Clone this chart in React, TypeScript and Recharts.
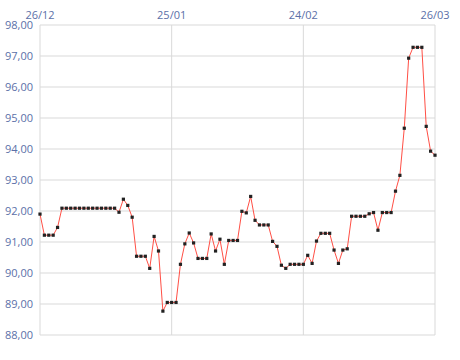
import React from 'react';
import { LineChart, Line, XAxis, YAxis, CartesianGrid } from 'recharts';

// one value per day, starting 26/12
const prices = [
  91.9, 91.22, 91.22, 91.22, 91.47,
  92.09, 92.09, 92.09, 92.09, 92.09, 92.09, 92.09, 92.09, 92.09, 92.09, 92.09, 92.09, 92.09,
  91.96, 92.38, 92.18, 91.8, 90.54, 90.54, 90.54, 90.15, 91.18, 90.71,
  88.77, 89.05, 89.05, 89.05, 90.28, 90.94, 91.29, 90.97, 90.47, 90.47,
  90.47, 91.26, 90.71, 91.09, 90.28, 91.05, 91.05, 91.05, 91.99, 91.94,
  92.47, 91.7, 91.55, 91.55, 91.55, 91.02, 90.86, 90.25, 90.15, 90.28,
  90.28, 90.28, 90.28, 90.57, 90.31, 91.03, 91.28, 91.28, 91.28, 90.74,
  90.31, 90.74, 90.78, 91.83, 91.83, 91.83, 91.83, 91.91, 91.95, 91.38,
  91.95, 91.95, 91.95, 92.64, 93.15, 94.67, 96.93, 97.28, 97.28, 97.28,
  94.73, 93.93, 93.8,
];
const tickDays = [0, 30, 60, 90];
const tickLabels = ['26/12', '25/01', '24/02', '26/03'];
const yTicks = [88, 89, 90, 91, 92, 93, 94, 95, 96, 97, 98];

const data = prices.map((v, i) => ({ day: i, value: v }));

const labelStyle = { fontSize: 11, fill: '#5b70a8', fontFamily: '"Open Sans", sans-serif' };

const SquareDot = (props: any) => {
  const { cx, cy } = props;
  if (cx == null || cy == null) return null;
  return <rect x={cx - 1.6} y={cy - 1.6} width={3.2} height={3.2} fill="#222" />;
};

export default function App() {
  return (
    <div style={{ position: 'absolute', left: 0, top: 0, background: '#fff' }}>
      <LineChart width={460} height={360} data={data} margin={{ top: 0, right: 25, bottom: 25, left: 0 }}>
        <CartesianGrid stroke="#d9d9d9" />
        <XAxis
          dataKey="day"
          type="number"
          orientation="top"
          domain={[0, 90]}
          ticks={tickDays}
          tickFormatter={(d: number) => tickLabels[tickDays.indexOf(d)]}
          axisLine={false}
          tickLine={false}
          tickSize={2}
          tickMargin={4}
          height={25}
          tick={labelStyle}
          interval={0}
        />
        <YAxis
          type="number"
          domain={[88, 98]}
          ticks={yTicks}
          tickFormatter={(v: number) => v.toFixed(2).replace('.', ',')}
          axisLine={false}
          tickLine={false}
          tickSize={5}
          tickMargin={2}
          width={40}
          tick={labelStyle}
          interval={0}
        />
        <Line
          type="linear"
          dataKey="value"
          stroke="#ff4f45"
          strokeWidth={1}
          dot={<SquareDot />}
          activeDot={false}
          isAnimationActive={false}
        />
      </LineChart>
    </div>
  );
}
